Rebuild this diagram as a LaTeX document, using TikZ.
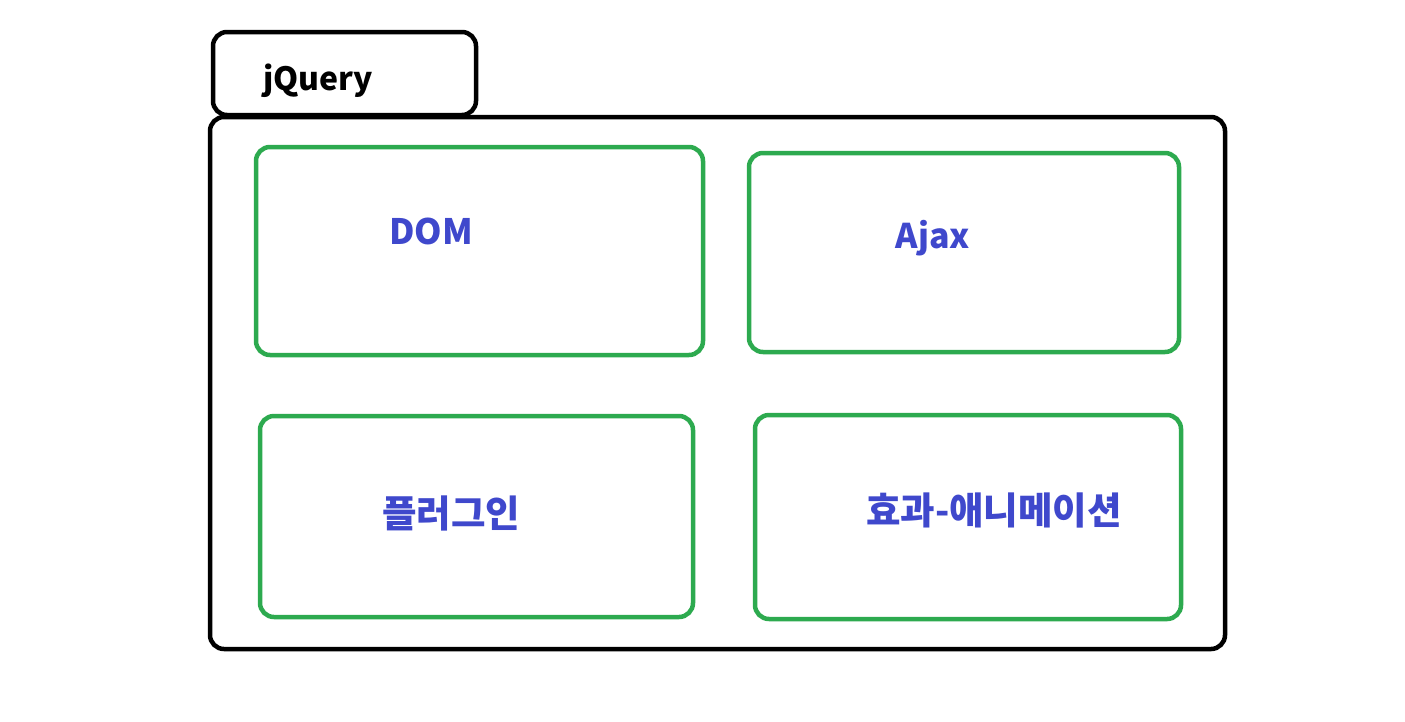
\documentclass[tikz,border=0pt]{standalone}
\usepackage{fontspec}
\setmainfont{Noto Sans CJK KR}
\definecolor{gbox}{HTML}{2DAA4F}
\definecolor{btxt}{HTML}{3F48CC}
\begin{document}
\begin{tikzpicture}[x=1pt,y=-1pt,
  blackbox/.style={draw=black,line width=4.5pt,rounded corners=14pt},
  greenbox/.style={draw=gbox,line width=4.5pt,rounded corners=14pt},
  lbl/.style={text=btxt,font=\fontsize{35}{40}\selectfont\bfseries,inner sep=0pt},
  kl/.style={text=btxt,font=\fontsize{37.5}{42}\selectfont\bfseries,inner sep=0pt}]
\useasboundingbox (0,0) rectangle (1405,721);
\draw[blackbox] (213,32) rectangle (476,115);
\draw[blackbox] (210,117) rectangle (1225,649);
\draw[greenbox] (256,147) rectangle (703,355);
\draw[greenbox] (749,153) rectangle (1179,352);
\draw[greenbox] (260,416) rectangle (693,617);
\draw[greenbox] (755,415) rectangle (1181,619);
\node[font=\fontsize{32}{36}\selectfont\bfseries,inner sep=0pt] (jq) at (318,81) {jQuery};
\node[lbl] (dom) at (431,231) {DOM};
\node[lbl,font=\fontsize{34}{40}\selectfont\bfseries] (ajax) at (933,238) {Ajax};
\node[kl] (plug) at (451,513) {플러그인};
\node[kl] (eff) at (994,510) {효과-애니메이션};
\end{tikzpicture}
\end{document}
